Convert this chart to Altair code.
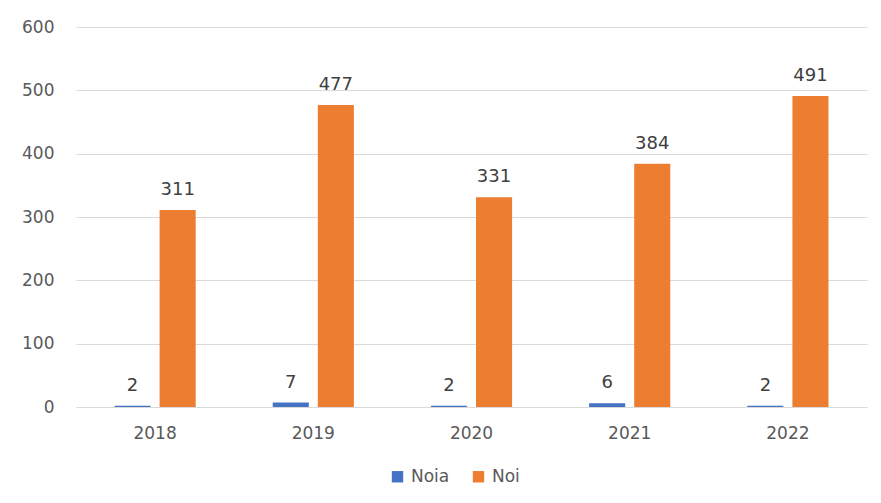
import altair as alt
import pandas as pd

years = ["2018", "2019", "2020", "2021", "2022"]
noia = [2, 7, 2, 6, 2]
noi = [311, 477, 331, 384, 491]
series = ["Noia", "Noi"]
colors = ["#4472C4", "#ED7D31"]

rows = []
for i, y in enumerate(years):
    rows.append({"year": y, "series": "Noia", "value": noia[i]})
    rows.append({"year": y, "series": "Noi", "value": noi[i]})
df = pd.DataFrame(rows)

FONT = "DejaVu Sans"

base = alt.Chart(df).encode(
    x=alt.X("year:N", sort=years, title=None,
            scale=alt.Scale(paddingInner=0.487, paddingOuter=0.2435),
            axis=alt.Axis(labelAngle=0, ticks=False, domain=True, domainColor="#D9D9D9",
                          labelPadding=18, labelFontSize=17, labelColor="#595959",
                          labelFont=FONT)),
    xOffset=alt.XOffset("series:N", sort=series,
                        scale=alt.Scale(paddingInner=0.2, paddingOuter=0)),
    y=alt.Y("value:Q", title=None,
            scale=alt.Scale(domain=[0, 600], nice=False),
            axis=alt.Axis(values=[0, 100, 200, 300, 400, 500, 600], ticks=False, domain=False,
                          gridColor="#D9D9D9", labelPadding=22, labelFontSize=17,
                          labelColor="#595959", labelFont=FONT)),
)

bars = base.mark_bar().encode(
    color=alt.Color("series:N", sort=series,
                    scale=alt.Scale(domain=series, range=colors),
                    legend=alt.Legend(title=None, orient="none", legendX=313, legendY=441,
                                      direction="horizontal",
                                      symbolType="square", symbolSize=130, symbolStrokeWidth=0,
                                      labelFontSize=17, labelColor="#595959", labelFont=FONT,
                                      columnPadding=20, labelOffset=5))
)

labels = base.mark_text(dy=-11, baseline="bottom", fontSize=18, color="#404040", font=FONT).encode(
    text=alt.Text("value:Q")
)

chart = alt.layer(bars, labels).properties(
    width=791, height=380,
    autosize=alt.AutoSizeParams(type="none"),
    padding={"left": 68, "top": 19, "right": 6, "bottom": 90},
).configure(background="white").configure_view(strokeWidth=0, stroke="transparent")

chart.save("out.html", embed_options={"renderer": "svg", "actions": False})
